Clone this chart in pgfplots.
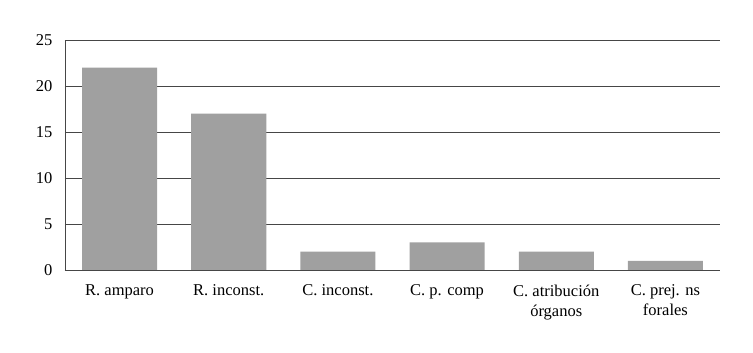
\documentclass[border=0pt]{standalone}
\usepackage{pgfplots}
\pgfplotsset{compat=1.18}
\usepackage{fontspec}
\setmainfont{Liberation Serif}
\definecolor{barg}{RGB}{160,160,160}
\definecolor{gridg}{RGB}{70,70,70}
\begin{document}
\begin{tikzpicture}
\begin{axis}[
  scale only axis,
  width=655pt, height=230pt,
  xmin=-0.5, xmax=5.5, ymin=0, ymax=25,
  ytick={0,5,10,15,20,25},
  xtick={0,1,2,3,4,5},
  xticklabels={R. amparo, R. inconst., C. inconst., C. p. comp, C. atribución\\órganos, C. prej. ns\\forales},
  xticklabel style={align=center, font=\fontsize{16.5}{20.5}\selectfont, yshift=-11pt},
  yticklabel style={font=\fontsize{16.5}{19}\selectfont, xshift=-9pt},
  /pgf/number format/assume math mode=true,
  axis x line*=bottom,
  axis y line*=left,
  ymajorgrids,
  grid style={gridg, line width=0.8pt},
  major tick length=0pt,
  axis line style={gridg, line width=0.8pt},
  ybar, bar width=75pt,
  clip=false,
]
\addplot[fill=barg, draw=none] coordinates {(0,22) (1,17) (2,2) (3,3) (4,2) (5,1)};
\end{axis}
\path[use as bounding box] (-65pt,-83pt) rectangle (688pt,270pt);
\end{tikzpicture}
\end{document}
